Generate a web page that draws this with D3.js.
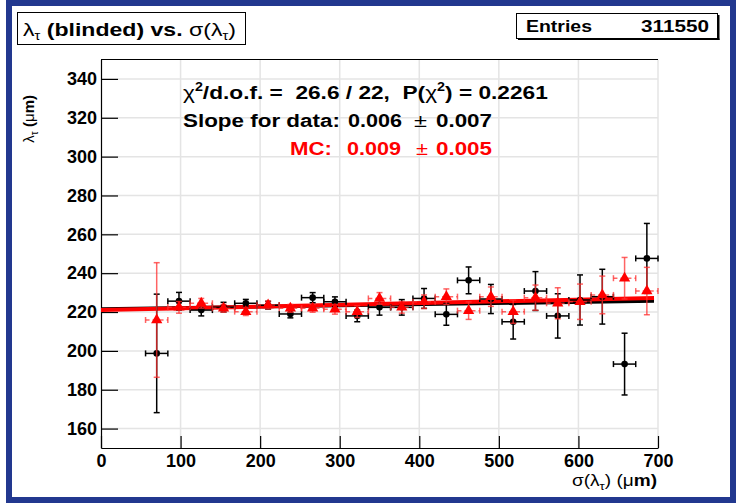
<!DOCTYPE html>
<html><head><meta charset="utf-8">
<script src="https://cdn.jsdelivr.net/npm/d3@7"></script>
<style>
body{margin:0;background:#fff}
svg{display:block}
text{font-family:"Liberation Sans",Arial,Helvetica,sans-serif}
</style>
</head><body>
<svg id="c" width="736" height="503"></svg>
<script>
// ---- data ----
const binCenters = [70, 98, 126, 154, 182, 210, 238, 266, 294, 322, 350, 378, 406, 434, 462, 490, 518, 546, 574, 602, 630, 658, 686];
const binHalfWidth = 14;
const dataValues = [198.7, 225.6, 221.0, 222.5, 224.5, 223.5, 219.0, 227.4, 225.3, 218.0, 222.4, 222.4, 227.0, 218.8, 236.3, 226.7, 215.0, 230.8, 218.0, 226.2, 227.9, 193.2, 247.6];
const dataErrors = [30.5, 4.5, 3.0, 2.5, 2.0, 2.0, 2.0, 2.6, 2.5, 3.0, 4.0, 4.0, 5.1, 5.6, 6.9, 7.5, 8.9, 10.0, 11.4, 12.9, 14.1, 15.9, 18.0];
const mcValues = [215.9, 222.4, 224.5, 221.9, 220.2, 223.6, 221.9, 221.9, 221.4, 220.2, 227.0, 222.4, 225.3, 227.9, 220.7, 227.9, 220.2, 227.4, 224.5, 225.3, 228.8, 237.4, 230.8];
const mcErrors = [29.5, 3.0, 2.5, 2.0, 2.0, 2.0, 2.0, 2.0, 2.5, 3.0, 3.0, 3.0, 3.5, 4.0, 4.5, 5.0, 6.0, 6.5, 8.0, 9.1, 9.7, 10.7, 12.2];
const fitDataLine = [221.5, 0.006];   // intercept, slope
const fitMCLine = [221.0, 0.009];
const fitRange = [0, 695];
const xTicks = [0, 100, 200, 300, 400, 500, 600, 700];
const yTicks = [160, 180, 200, 220, 240, 260, 280, 300, 320, 340];

// ---- layout ----
const svg = d3.select("#c");
const L = 101, R = 658, T = 59.5, B = 448;
const x = d3.scaleLinear().domain([0, 700]).range([L, R]);
const y = d3.scaleLinear().domain([150, 350]).range([B, T]);
const blue = "#22388f";
const FONT = "'Liberation Sans', Arial, sans-serif";

// helper: place text stretched horizontally to a target width
function stretched(parent, x0, x1, yb, size, build, color) {
  const g = parent.append("g");
  const t = g.append("text").attr("x", 0).attr("y", 0)
    .style("font", `bold ${size}px ${FONT}`).attr("fill", color || "#000");
  build(t);
  const w = t.node().getComputedTextLength();
  g.attr("transform", `translate(${x0},${yb}) scale(${(x1 - x0) / w},1)`);
  return g;
}

// canvas border
svg.append("rect").attr("x", 0).attr("y", 0).attr("width", 736).attr("height", 503).attr("fill", "#fff");
svg.append("rect").attr("x", 9).attr("y", 3).attr("width", 724).attr("height", 497)
  .attr("fill", "none").attr("stroke", blue).attr("stroke-width", 6);

// grid
const grid = svg.append("g").attr("stroke", "#e4e4e4").attr("stroke-width", 1.5);
grid.selectAll("line.gx").data(xTicks.slice(1)).enter().append("line")
  .attr("x1", d => x(d)).attr("x2", d => x(d)).attr("y1", T).attr("y2", B);
grid.selectAll("line.gy").data(yTicks).enter().append("line")
  .attr("x1", L).attr("x2", R).attr("y1", d => y(d)).attr("y2", d => y(d));

// frame top
svg.append("line").attr("x1", L).attr("x2", R).attr("y1", T).attr("y2", T).attr("stroke", "#000").attr("stroke-width", 1.2);

// axes
const fontAxis = `bold 18px ${FONT}`;
const gy = svg.append("g").attr("transform", `translate(${L},0)`);
gy.call(d3.axisLeft(y).tickValues(d3.range(155, 350, 5)).tickSizeInner(-8.5).tickSizeOuter(0).tickFormat(""));
gy.call(d3.axisLeft(y).tickValues(yTicks).tickSizeInner(-17).tickSizeOuter(0).tickPadding(4));
gy.selectAll("text").style("font", fontAxis).attr("fill", "#000");
gy.selectAll("line,path").attr("stroke", "#000").attr("stroke-width", 1.2);

const gx = svg.append("g").attr("transform", `translate(0,${B})`);
gx.call(d3.axisBottom(x).tickValues(d3.range(20, 700, 20)).tickSizeInner(-6).tickSizeOuter(0).tickFormat(""));
gx.call(d3.axisBottom(x).tickValues(xTicks).tickSizeInner(-12).tickSizeOuter(0).tickPadding(6));
gx.selectAll("text").style("font", fontAxis).attr("fill", "#000");
gx.selectAll("line,path").attr("stroke", "#000").attr("stroke-width", 1.2);

// axis titles
const yt = svg.append("text").attr("transform", `translate(34,95) rotate(-90)`).attr("text-anchor", "end")
  .style("font", `bold 15px ${FONT}`);
yt.append("tspan").text("λ").style("font-weight", "normal");
yt.append("tspan").text("τ").attr("dy", 4).style("font-size", "10px").style("font-weight", "normal");
yt.append("tspan").text(" (").attr("dy", -4);
yt.append("tspan").text("μ").style("font-weight", "normal");
yt.append("tspan").text("m)");

stretched(svg, 572, 657, 486, 16, t => {
  t.append("tspan").text("σ(λ").style("font-weight", "normal");
  t.append("tspan").text("τ").attr("dy", 4).style("font-size", "11px").style("font-weight", "normal");
  t.append("tspan").text(") (").attr("dy", -4).style("font-weight", "normal");
  t.append("tspan").text("μ").style("font-weight", "normal");
  t.append("tspan").text("m)");
});

// fit lines
const line = p => d3.line().x(d => x(d)).y(d => y(p[0] + p[1] * d));
svg.append("path").datum(fitRange).attr("d", line(fitDataLine)).attr("stroke", "#000").attr("stroke-width", 3.5).attr("fill", "none");
svg.append("path").datum(fitRange).attr("d", line(fitMCLine)).attr("stroke", "#ff0000").attr("stroke-width", 4).attr("fill", "none");

// data points
const pts = binCenters.map((c, i) => ({c, v: dataValues[i], e: dataErrors[i], m: mcValues[i], me: mcErrors[i]}));
const cap = 3;
const gd = svg.append("g").attr("stroke", "#000").attr("stroke-width", 1.5);
pts.forEach(p => {
  const cx = x(p.c), cy = y(p.v);
  const x0 = x(p.c - binHalfWidth), x1 = x(p.c + binHalfWidth);
  const y0 = y(p.v - p.e), y1 = y(p.v + p.e);
  gd.append("line").attr("x1", x0).attr("x2", x1).attr("y1", cy).attr("y2", cy);
  gd.append("line").attr("x1", x0).attr("x2", x0).attr("y1", cy - cap).attr("y2", cy + cap);
  gd.append("line").attr("x1", x1).attr("x2", x1).attr("y1", cy - cap).attr("y2", cy + cap);
  gd.append("line").attr("x1", cx).attr("x2", cx).attr("y1", y0).attr("y2", y1);
  gd.append("line").attr("x1", cx - cap).attr("x2", cx + cap).attr("y1", y0).attr("y2", y0);
  gd.append("line").attr("x1", cx - cap).attr("x2", cx + cap).attr("y1", y1).attr("y2", y1);
});
svg.append("g").selectAll("circle").data(pts).enter().append("circle")
  .attr("cx", d => x(d.c)).attr("cy", d => y(d.v)).attr("r", 3.3).attr("fill", "#000");

// MC points
const gm = svg.append("g").attr("stroke", "#ff3030").attr("stroke-opacity", 0.75).attr("stroke-width", 1.5);
pts.forEach(p => {
  const cx = x(p.c), cy = y(p.m);
  const x0 = x(p.c - binHalfWidth), x1 = x(p.c + binHalfWidth);
  const y0 = y(p.m - p.me), y1 = y(p.m + p.me);
  gm.append("line").attr("x1", x0).attr("x2", x1).attr("y1", cy).attr("y2", cy).attr("stroke-dasharray", "4,3");
  gm.append("line").attr("x1", x0).attr("x2", x0).attr("y1", cy - cap).attr("y2", cy + cap);
  gm.append("line").attr("x1", x1).attr("x2", x1).attr("y1", cy - cap).attr("y2", cy + cap);
  gm.append("line").attr("x1", cx).attr("x2", cx).attr("y1", y0).attr("y2", y1);
  gm.append("line").attr("x1", cx - cap).attr("x2", cx + cap).attr("y1", y0).attr("y2", y0);
  gm.append("line").attr("x1", cx - cap).attr("x2", cx + cap).attr("y1", y1).attr("y2", y1);
});
svg.append("g").selectAll("path").data(pts).enter().append("path")
  .attr("d", d3.symbol(d3.symbolTriangle, 55)())
  .attr("transform", d => `translate(${x(d.c)},${y(d.m)})`).attr("fill", "#ff0000");

// stats text
stretched(svg, 183, 548, 99, 19, t => {
  t.append("tspan").text("χ").style("font-weight", "normal");
  t.append("tspan").text("2").attr("dy", -8).style("font-size", "12px");
  t.append("tspan").text("/d.o.f. =  26.6 / 22,  P(").attr("dy", 8).attr("xml:space", "preserve");
  t.append("tspan").text("χ").style("font-weight", "normal");
  t.append("tspan").text("2").attr("dy", -8).style("font-size", "12px");
  t.append("tspan").text(") = 0.2261").attr("dy", 8);
});
stretched(svg, 183, 340, 127, 19, t => t.text("Slope for data:"));
stretched(svg, 348, 402, 127, 19, t => t.text("0.006"));
stretched(svg, 414, 427, 127, 19, t => t.text("±").style("font-weight", "normal"));
stretched(svg, 436, 492, 127, 19, t => t.text("0.007"));
stretched(svg, 290, 332, 155, 19, t => t.text("MC:"), "#ff0000");
stretched(svg, 347, 401, 155, 19, t => t.text("0.009"), "#ff0000");
stretched(svg, 416, 428, 155, 19, t => t.text("±").style("font-weight", "normal"), "#ff0000");
stretched(svg, 436, 492, 155, 19, t => t.text("0.005"), "#ff0000");

// title box
svg.append("rect").attr("x", 17.5).attr("y", 12.5).attr("width", 228).attr("height", 32).attr("fill", "#fff").attr("stroke", "#000").attr("stroke-width", 1);
stretched(svg, 23, 236, 36, 19, t => {
  t.append("tspan").text("λ").style("font-weight", "normal");
  t.append("tspan").text("τ").attr("dy", 4).style("font-size", "12px").style("font-weight", "normal");
  t.append("tspan").text(" (blinded) vs. ").attr("dy", -4).attr("xml:space", "preserve");
  t.append("tspan").text("σ(λ").style("font-weight", "normal");
  t.append("tspan").text("τ").attr("dy", 4).style("font-size", "12px").style("font-weight", "normal");
  t.append("tspan").text(")").attr("dy", -4).style("font-weight", "normal");
});

// entries box
svg.append("rect").attr("x", 516.5).attr("y", 13.5).attr("width", 201).attr("height", 25).attr("fill", "#fff").attr("stroke", "#000").attr("stroke-width", 1);
svg.append("rect").attr("x", 717.5).attr("y", 15).attr("width", 2).attr("height", 25).attr("fill", "#000");
svg.append("rect").attr("x", 518).attr("y", 38.5).attr("width", 201.5).attr("height", 1.5).attr("fill", "#000");
stretched(svg, 526, 592, 32, 17, t => t.text("Entries"));
stretched(svg, 641, 709, 32, 17, t => t.text("311550"));
</script>
</body></html>
